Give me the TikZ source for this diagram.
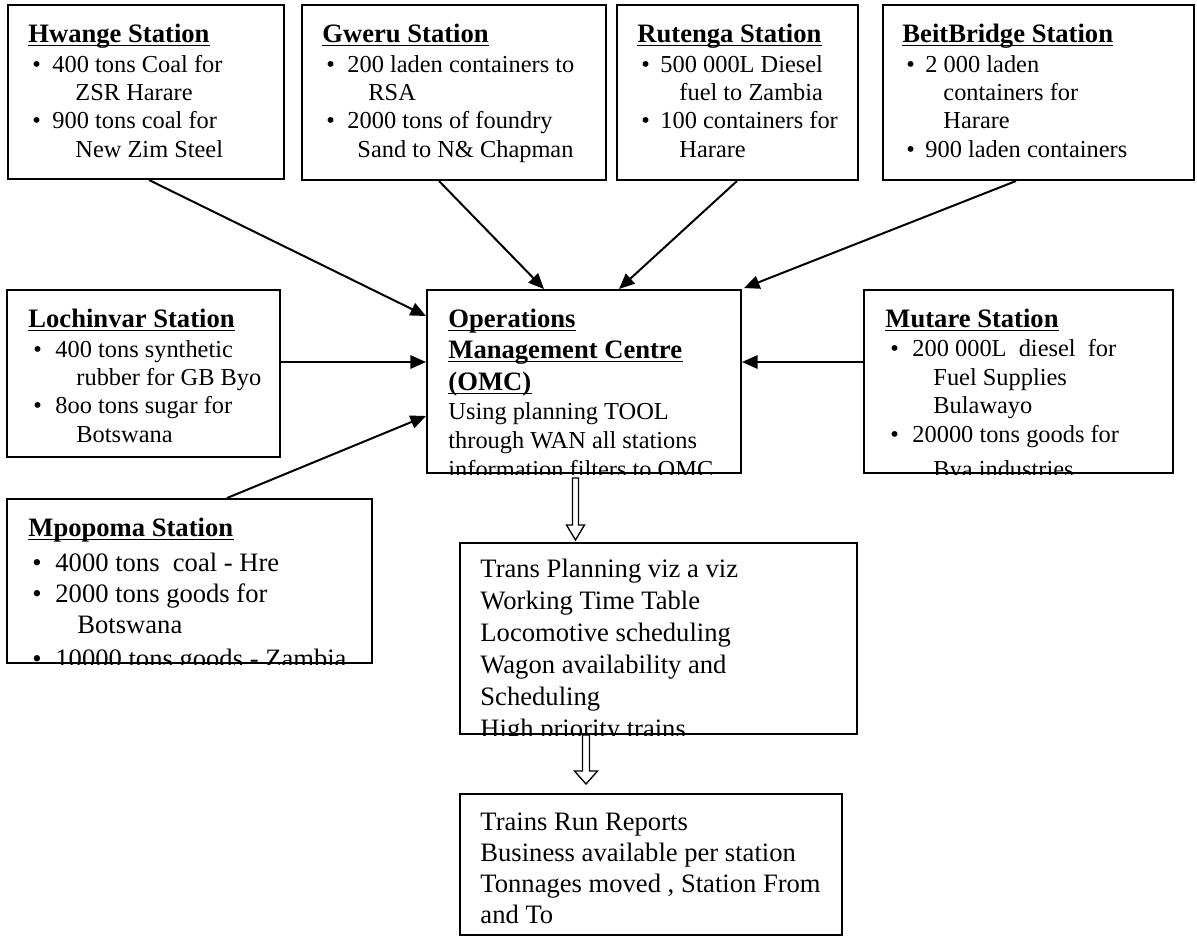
\documentclass[tikz,border=0pt]{standalone}
\usepackage{fontspec}
\setmainfont{Liberation Serif}
\usetikzlibrary{calc,fit,arrows.meta}
\newcommand\hdsz{\fontsize{12}{14}\selectfont}
\newcommand\bdsz{\fontsize{11}{13}\selectfont}
\tikzset{
 boxst/.style={draw, line width=0.9pt, inner sep=0pt},
 hd/.style={font=\hdsz\bfseries, anchor=base west, inner sep=0pt},
 bd/.style={font=\bdsz, anchor=base west, inner sep=0pt},
 bdl/.style={font=\hdsz, anchor=base west, inner sep=0pt},
 conn/.style={line width=0.9pt, -{Triangle[length=7pt,width=6pt]}},
 ulst/.style={line width=0.8pt},
 hollow/.style={draw, line width=0.6pt, fill=white},
}
\newcommand\hdline[4]{\node[hd] (#1) at (#2,#3) {#4}; \draw[ulst] ($(#1.base west)+(0,3.5)$) -- ($(#1.base east)+(0,3.5)$);}
\newcommand\txtline[5]{\node[#1] (#2) at (#3,#4) {#5};}
\newcommand\bulpt[4]{\node[#1] (#2) at (#3,#4) {\textbullet};}
\begin{document}
\begin{tikzpicture}[x=0.45113pt, y=-0.45113pt]
\path[fill=white, use as bounding box] (0,0) rectangle (1197,938);

% ---------- boxes ----------
\node[boxst, fit={(8,5) (284,179)}] (hw) {};
\node[boxst, fit={(302,5) (606,180)}] (gw) {};
\node[boxst, fit={(617,5) (858,180)}] (rt) {};
\node[boxst, fit={(883,5) (1194,180)}] (bb) {};
\node[boxst, fit={(7,290) (280,457)}] (lv) {};
\node[boxst, fit={(427,290) (741,473)}] (omc) {};
\node[boxst, fit={(864,290) (1173,473)}] (mt) {};
\node[boxst, fit={(7,499) (372,663)}] (mp) {};
\node[boxst, fit={(460,543) (857,734)}] (tp) {};
\node[boxst, fit={(460,794) (842,935)}] (tr) {};

% ---------- Hwange ----------
\begin{scope}
\clip (hw.north west) rectangle (hw.south east);
\hdline{hwh}{28}{42}{Hwange Station}
\bulpt{bd}{hwb1}{32}{72}
\txtline{bd}{hw1}{52}{72}{400 tons Coal for}
\txtline{bd}{hw2}{75}{100}{ZSR Harare}
\bulpt{bd}{hwb2}{32}{128}
\txtline{bd}{hw3}{52}{128}{900 tons coal for}
\txtline{bd}{hw4}{75}{157}{New Zim Steel}
\end{scope}

% ---------- Gweru ----------
\begin{scope}
\clip (gw.north west) rectangle (gw.south east);
\hdline{gwh}{322}{42}{Gweru Station}
\bulpt{bd}{gwb1}{326}{72}
\txtline{bd}{gw1}{347}{72}{200 laden containers to}
\txtline{bd}{gw2}{368}{100}{RSA}
\bulpt{bd}{gwb2}{326}{128}
\txtline{bd}{gw3}{347}{128}{2000 tons of foundry}
\txtline{bd}{gw4}{357}{157}{Sand to N\& Chapman}
\end{scope}

% ---------- Rutenga ----------
\begin{scope}
\clip (rt.north west) rectangle (rt.south east);
\hdline{rth}{637}{42}{Rutenga Station}
\bulpt{bd}{rtb1}{641}{72}
\txtline{bd}{rt1}{660}{72}{500 000L Diesel}
\txtline{bd}{rt2}{679}{100}{fuel to Zambia}
\bulpt{bd}{rtb2}{641}{128}
\txtline{bd}{rt3}{660}{128}{100 containers for}
\txtline{bd}{rt4}{679}{157}{Harare}
\end{scope}

% ---------- BeitBridge ----------
\begin{scope}
\clip (bb.north west) rectangle (bb.south east);
\hdline{bbh}{902}{42}{BeitBridge Station}
\bulpt{bd}{bbb1}{906}{72}
\txtline{bd}{bb1}{925}{72}{2 000 laden}
\txtline{bd}{bb2}{943}{100}{containers for}
\txtline{bd}{bb3}{943}{128}{Harare}
\bulpt{bd}{bbb2}{906}{157}
\txtline{bd}{bb4}{925}{157}{900 laden containers}
\end{scope}

% ---------- Lochinvar ----------
\begin{scope}
\clip (lv.north west) rectangle (lv.south east);
\hdline{lvh}{28}{327}{Lochinvar Station}
\bulpt{bd}{lvb1}{33}{357}
\txtline{bd}{lv1}{55}{357}{400 tons synthetic}
\txtline{bd}{lv2}{76}{385}{rubber for GB Byo}
\bulpt{bd}{lvb2}{33}{413}
\txtline{bd}{lv3}{55}{413}{8oo tons sugar for}
\txtline{bd}{lv4}{76}{442}{Botswana}
\end{scope}

% ---------- OMC ----------
\begin{scope}
\clip (omc.north west) rectangle (omc.south east);
\hdline{omh1}{448}{327}{Operations}
\hdline{omh2}{448}{358}{Management Centre}
\hdline{omh3}{448}{390}{(OMC)}
\txtline{bd}{om1}{448}{419}{Using planning TOOL}
\txtline{bd}{om2}{448}{448}{through WAN all stations}
\txtline{bd}{om3}{448}{477}{information filters to OMC}
\end{scope}

% ---------- Mutare ----------
\begin{scope}
\clip (mt.north west) rectangle (mt.south east);
\hdline{mth}{885}{327}{Mutare Station}
\bulpt{bd}{mtb1}{890}{356}
\txtline{bd}{mt1}{912}{356}{200 000L\ \ diesel\ \ for}
\txtline{bd}{mt2}{933}{385}{Fuel Supplies}
\txtline{bd}{mt3}{933}{413}{Bulawayo}
\bulpt{bd}{mtb2}{890}{442}
\txtline{bd}{mt4}{912}{442}{20000 tons goods for}
\txtline{bd}{mt5}{933}{477}{Bya industries}
\end{scope}

% ---------- Mpopoma ----------
\begin{scope}
\clip (mp.north west) rectangle (mp.south east);
\hdline{mph}{28}{536}{Mpopoma Station}
\bulpt{bdl}{mpb1}{32}{571}
\txtline{bdl}{mp1}{55}{571}{4000 tons\ \ coal - Hre}
\bulpt{bdl}{mpb2}{32}{602}
\txtline{bdl}{mp2}{55}{602}{2000 tons goods for}
\txtline{bdl}{mp3}{77}{633}{Botswana}
\bulpt{bdl}{mpb3}{32}{667}
\txtline{bdl}{mp4}{55}{667}{10000 tons goods - Zambia}
\end{scope}

% ---------- Trans planning ----------
\begin{scope}
\clip (tp.north west) rectangle (tp.south east);
\txtline{bdl}{tp1}{480}{577}{Trans Planning viz a viz}
\txtline{bdl}{tp2}{480}{609}{Working Time Table}
\txtline{bdl}{tp3}{480}{641}{Locomotive scheduling}
\txtline{bdl}{tp4}{480}{673}{Wagon availability and}
\txtline{bdl}{tp5}{480}{705}{Scheduling}
\txtline{bdl}{tp6}{480}{737}{High priority trains}
\end{scope}

% ---------- Trains run reports ----------
\begin{scope}
\clip (tr.north west) rectangle (tr.south east);
\txtline{bdl}{tr1}{480}{830}{Trains Run Reports}
\txtline{bdl}{tr2}{480}{861}{Business available per station}
\txtline{bdl}{tr3}{480}{892}{Tonnages moved , Station From}
\txtline{bdl}{tr4}{480}{923}{and To}
\end{scope}

% ---------- connectors ----------
\draw[conn] ($(hw.south west)+(142,0)$) -- ($(omc.north west)+(0,27)$);
\draw[conn] ($(gw.south west)+(138,0)$) -- ($(omc.north west)+(118,0)$);
\draw[conn] ($(rt.south west)+(121,0)$) -- ($(omc.north west)+(193,0)$);
\draw[conn] ($(bb.south west)+(134,0)$) -- ($(omc.north east)+(2,-1)$);
\draw[conn] ($(lv.north east)+(0,73)$) -- ($(omc.north west)+(0,73)$);
\draw[conn] ($(mp.north west)+(221,0)$) -- ($(omc.north west)+(0,127)$);
\draw[conn] ($(mt.north west)+(0,73)$) -- ($(omc.north east)+(0,73)$);

% ---------- hollow arrows ----------
\draw[hollow] (572.5,478) -- (578.5,478) -- (578.5,525) -- (584.5,525) -- (575.5,540) -- (566.5,525) -- (572.5,525) -- cycle;
\draw[hollow] (582.5,735) -- (589.5,735) -- (589.5,771) -- (597.5,771) -- (586,784) -- (574.5,771) -- (582.5,771) -- cycle;
\end{tikzpicture}
\end{document}
